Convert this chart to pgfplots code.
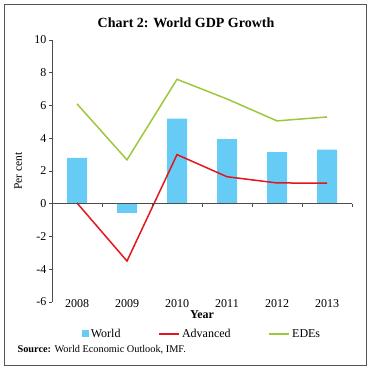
\documentclass[border=0pt]{standalone}
\usepackage{pgfplots}
\pgfplotsset{compat=1.18}
\usepackage{fontspec}
\setmainfont{Liberation Serif}
\definecolor{barblue}{HTML}{66CCF5}
\definecolor{advred}{HTML}{E2161E}
\definecolor{edegreen}{HTML}{9CC83C}
\definecolor{framegray}{HTML}{555555}
\begin{document}
\begin{tikzpicture}[x=1pt,y=1pt]
\path[use as bounding box] (0,0) rectangle (372,370);
\draw[framegray, line width=1.3pt] (4.5,4.5) rectangle (366.5,365.5);
\node[font=\fontsize{14}{16}\selectfont\bfseries] at (186,347) {Chart 2: World GDP Growth};
\node[anchor=west, font=\fontsize{10.3}{12}\selectfont] at (14,20) {\textbf{Source:} World Economic Outlook, IMF.};
\begin{axis}[
  at={(52pt,68pt)}, anchor=south west,
  width=300pt, height=262pt, scale only axis,
  xmin=-0.5, xmax=5.5, ymin=-6, ymax=10,
  ytick={-6,-4,...,10},
  xtick={0,...,5},
  xticklabels={2008,2009,2010,2011,2012,2013},
  axis x line=bottom, axis y line=left,
  x axis line style={draw=none},
  y axis line style={-, black!70, line width=0.8pt},
  xtick style={draw=none},
  ytick style={black!70, line width=0.6pt},
  tick align=outside, major tick length=3pt,
  /pgf/number format/assume math mode=true,
  tick label style={font=\fontsize{12}{14}\selectfont},
  xticklabel style={yshift=9pt},
  yticklabel style={xshift=1pt},
  xlabel={\textbf{Year}},
  xlabel style={at={(axis description cs:0.5,-0.05)}, anchor=center, font=\fontsize{12}{14}\selectfont},
  ylabel={Per cent},
  ylabel style={at={(axis description cs:-0.113,0.5)}, anchor=center, font=\fontsize{11.5}{13}\selectfont},
  legend columns=3,
  legend style={at={(0.5,-0.122)}, anchor=center, draw=none, fill=none,
    font=\fontsize{12}{14}\selectfont,
    /tikz/every even column/.append style={column sep=36pt}},
  clip=false,
]
\addplot[ybar, bar width=20pt, fill=barblue, draw=none,
  legend image code/.code={\fill[barblue] (0pt,-3.5pt) rectangle (7pt,3.5pt);}]
  coordinates {(0,2.8) (1,-0.55) (2,5.2) (3,3.95) (4,3.15) (5,3.3)};
\addlegendentry{World}
\addplot[advred, line width=1.5pt, mark=none,
  legend image code/.code={\draw[advred, line width=1.5pt] (0pt,0pt) -- (20pt,0pt);}]
  coordinates {(0,0.05) (1,-3.5) (2,3.0) (3,1.65) (4,1.27) (5,1.26)};
\addlegendentry{Advanced}
\addplot[edegreen, line width=1.5pt, mark=none,
  legend image code/.code={\draw[edegreen, line width=1.5pt] (0pt,0pt) -- (20pt,0pt);}]
  coordinates {(0,6.1) (1,2.68) (2,7.6) (3,6.4) (4,5.06) (5,5.3)};
\addlegendentry{EDEs}
\draw[black!70, line width=0.8pt] (axis cs:-0.5,0) -- (axis cs:5.5,0);
\pgfplotsinvokeforeach{0.5,1.5,2.5,3.5,4.5,5.5}{
  \draw[black!70, line width=0.6pt] (axis cs:#1,0) -- ++(0pt,-3pt);
}
\end{axis}
\end{tikzpicture}
\end{document}
